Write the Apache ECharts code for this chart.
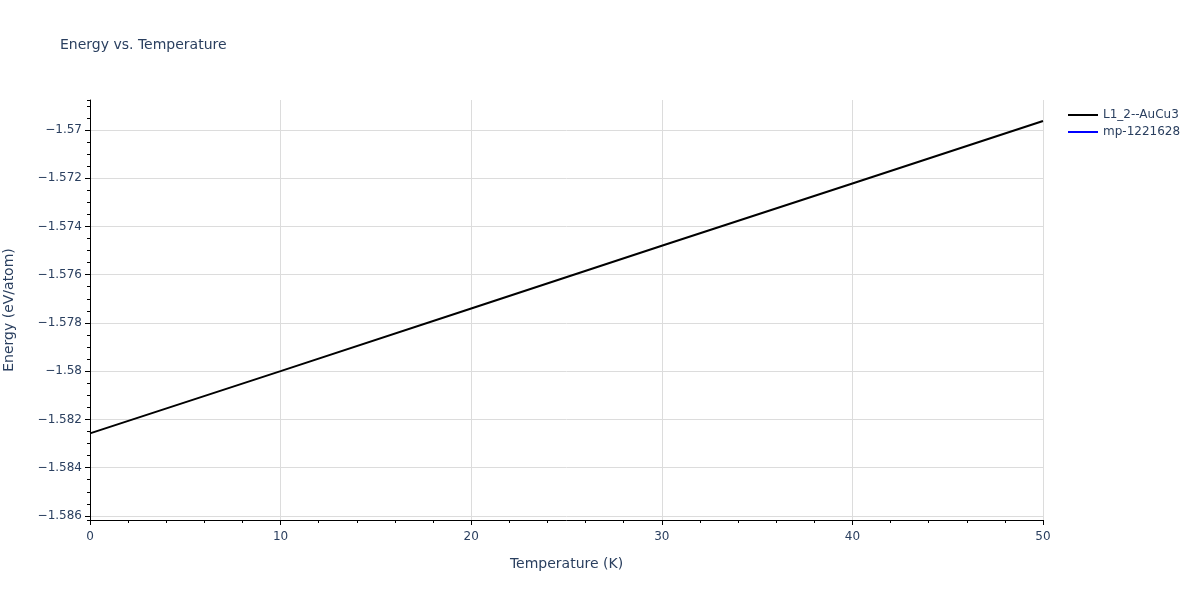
<!DOCTYPE html>
<html>
<head>
<meta charset="utf-8">
<script src="https://cdn.jsdelivr.net/npm/echarts@6/dist/echarts.min.js"></script>
<style>
  html, body { margin: 0; padding: 0; background: #fff; }
  #main { width: 1200px; height: 600px; }
</style>
</head>
<body>
<div id="main"></div>
<script>
// data
const temperature = [0, 10, 20, 30, 40, 50];
const energyL12 = [-1.58258, -1.58000, -1.57740, -1.57480, -1.57222, -1.56963];
const energyMp = []; // drawn in the legend only, no visible line in the plot
const seriesNames = ['L1_2--AuCu3', 'mp-1221628'];
const seriesColors = ['#000000', '#0000ff'];

const yMin = -1.58617;
const yMax = -1.56876;

const fontFam = '"DejaVu Sans", verdana, arial, sans-serif';
const textColor = '#2a3f5f';

function fmtY(v) {
    return (+v.toFixed(4)).toString().replace('-', '\u2212');
}

const chart = echarts.init(document.getElementById('main'));

chart.setOption({
    animation: false,
    textStyle: { fontFamily: fontFam },
    title: {
        text: 'Energy vs. Temperature',
        left: 55, top: 33,
        textStyle: { fontFamily: fontFam, fontSize: 14, fontWeight: 'normal', color: textColor }
    },
    legend: {
        orient: 'vertical',
        left: 1063, top: 104,
        itemWidth: 30, itemHeight: 2, itemGap: 5,
        icon: 'rect',
        textStyle: { fontFamily: fontFam, fontSize: 12, color: textColor },
        data: seriesNames
    },
    grid: { left: 90, right: 157, top: 100, bottom: 80, outerBoundsMode: 'none', containLabel: false },
    xAxis: {
        type: 'value',
        min: 0, max: 50, interval: 10,
        name: 'Temperature (K)',
        nameLocation: 'middle', nameGap: 37,
        nameTextStyle: { fontFamily: fontFam, fontSize: 14, color: textColor },
        axisLine: { show: true, lineStyle: { color: '#000', width: 1 } },
        axisTick: { show: true, length: 5, lineStyle: { color: '#000' } },
        minorTick: { show: true, splitNumber: 5, length: 3, lineStyle: { color: '#000' } },
        axisLabel: { fontFamily: fontFam, fontSize: 12, color: textColor, margin: 11 },
        splitLine: { show: true, lineStyle: { color: '#dcdcdc', width: 1 } }
    },
    yAxis: [{
        type: 'value',
        min: yMin, max: yMax, splitNumber: 8,
        name: 'Energy (eV/atom)',
        nameLocation: 'middle', nameGap: 74,
        nameTextStyle: { fontFamily: fontFam, fontSize: 14, color: textColor },
        axisLine: { show: true, lineStyle: { color: '#000', width: 1 } },
        axisTick: { show: true, length: 5, lineStyle: { color: '#000' } },
        axisLabel: {
            fontFamily: fontFam, fontSize: 12, color: textColor, margin: 8,
            showMinLabel: false, showMaxLabel: false,
            formatter: fmtY
        },
        splitLine: { show: true, showMinLine: false, showMaxLine: false, lineStyle: { color: '#dcdcdc', width: 1 } }
    }, {
        // minor ticks every 0.0005
        type: 'value',
        min: yMin, max: yMax, splitNumber: 35,
        position: 'left',
        axisLine: { show: false },
        axisTick: { show: true, length: 3, lineStyle: { color: '#000' } },
        axisLabel: { show: false },
        splitLine: { show: false }
    }],
    series: [{
        name: seriesNames[0],
        type: 'line',
        symbol: 'none',
        color: seriesColors[0],
        lineStyle: { color: seriesColors[0], width: 2 },
        data: temperature.map((t, i) => [t, energyL12[i]])
    }, {
        name: seriesNames[1],
        type: 'line',
        symbol: 'none',
        color: seriesColors[1],
        lineStyle: { color: seriesColors[1], width: 2 },
        data: energyMp
    }]
});
</script>
</body>
</html>
